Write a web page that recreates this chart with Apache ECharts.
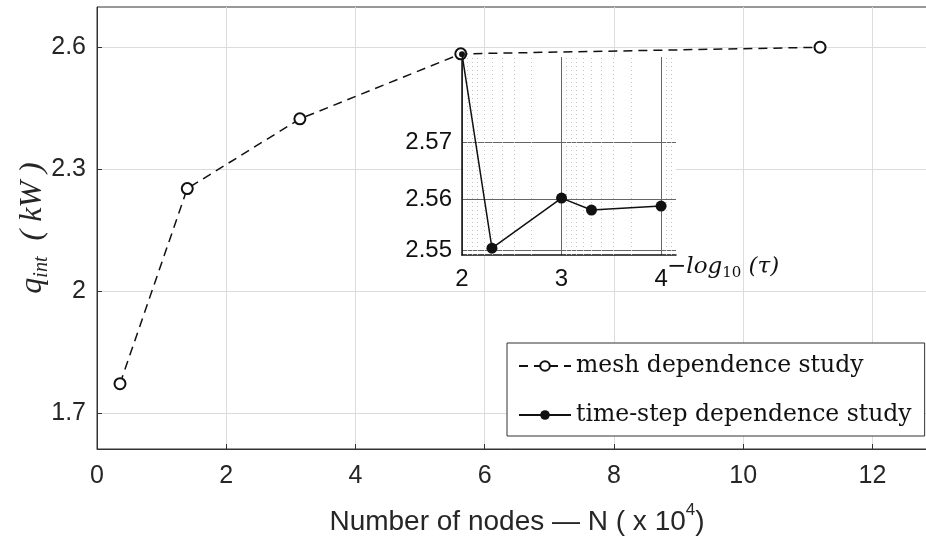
<!DOCTYPE html>
<html>
<head>
<meta charset="utf-8">
<script src="https://cdn.jsdelivr.net/npm/echarts@6/dist/echarts.min.js"></script>
<style>html,body{margin:0;padding:0;background:#fff}#c{width:926px;height:547px}</style>
</head>
<body>
<div id="c"></div>
<script>
// ---- data ----
const meshName = 'mesh dependence study';
const stepName = 'time-step dependence study';
const meshX = [0.356, 1.397, 3.14, 5.63, 11.19];
const meshY = [1.773, 2.2526, 2.424, 2.5838, 2.600];
const stepX = [2, 2.301, 3, 3.301, 4];
const stepY = [2.5855, 2.5514, 2.5602, 2.5581, 2.5588];
const mainXTicks = [0, 2, 4, 6, 8, 10, 12];
const mainYTicks = [1.7, 2.0, 2.3, 2.6];
const insetXTicks = [2, 3, 4];
const insetYTicks = [2.551, 2.56, 2.57];
// log-scale minor grid of tau (decades 1e-2 .. 1e-5)
const insetMinorX = [];
[2, 3, 4].forEach(function (e) {
  for (let m = 9; m >= 2; m--) {
    const v = -Math.log10(m * Math.pow(10, -(e + 1)));
    if (v > 2 && v < 4.15) insetMinorX.push(v);
  }
});

const sansFont = 'Liberation Sans';
const serifFont = 'DejaVu Serif';

const chart = echarts.init(document.getElementById('c'), null, {renderer: 'canvas'});
const option = {
  animation: false,
  backgroundColor: '#fff',
  grid: [
    {left: 97, top: 7, width: 840, height: 442, outerBoundsMode: 'none', containLabel: false,
      show: true, backgroundColor: '#fff', borderColor: '#333', borderWidth: 1, z: 0},
    {left: 462, top: 57, width: 214, height: 198, outerBoundsMode: 'none', containLabel: false,
      show: true, backgroundColor: '#fff', borderWidth: 0, z: 3}
  ],
  xAxis: [
    {
      gridIndex: 0, type: 'value', min: 0, max: 13,
      name: '{t|Number of nodes — N ( x 10}{s|4}{t|)}',
      nameLocation: 'middle', nameGap: 53, nameMoveOverlap: false,
      nameTextStyle: {rich: {
        t: {fontFamily: sansFont, fontSize: 28, color: '#262626', lineHeight: 34, verticalAlign: 'bottom'},
        s: {fontFamily: sansFont, fontSize: 17, color: '#262626', lineHeight: 34, verticalAlign: 'top'}
      }},
      axisLine: {lineStyle: {color: '#333', width: 1}},
      axisTick: {inside: true, length: 5, customValues: mainXTicks, lineStyle: {color: '#333'}},
      axisLabel: {customValues: mainXTicks, fontFamily: sansFont, fontSize: 25, color: '#262626', margin: 15},
      splitLine: {show: true, lineStyle: {color: '#dcdcdc', width: 1}}
    },
    {
      gridIndex: 1, type: 'value', min: 2, max: 4.15, z: 4,
      name: '{a|−log}{b|10}{c| (τ)}',
      nameLocation: 'end', nameGap: -9, nameMoveOverlap: false,
      nameTextStyle: {padding: [24, 0, 0, 0], rich: {
        a: {fontFamily: serifFont, fontStyle: 'italic', fontSize: 23, color: '#111', lineHeight: 28},
        b: {fontFamily: serifFont, fontSize: 15, color: '#111', lineHeight: 28, verticalAlign: 'bottom'},
        c: {fontFamily: serifFont, fontStyle: 'italic', fontSize: 23, color: '#111', lineHeight: 28}
      }},
      axisLine: {onZero: false, lineStyle: {color: '#111', width: 1.5}},
      axisTick: {show: false, customValues: insetXTicks},
      axisLabel: {customValues: insetXTicks, fontFamily: sansFont, fontSize: 24, color: '#111', margin: 12},
      splitLine: {show: true, lineStyle: {color: '#666', width: 1}}
    }
  ],
  yAxis: [
    {
      gridIndex: 0, type: 'value', min: 1.6125, max: 2.699,
      name: '{q|q}{s|int}{t|  ( kW )}',
      nameLocation: 'middle', nameGap: 45, nameRotate: 90, nameMoveOverlap: false,
      nameTextStyle: {rich: {
        q: {fontFamily: 'Liberation Serif', fontStyle: 'italic', fontSize: 32, color: '#262626', lineHeight: 38},
        s: {fontFamily: 'Liberation Serif', fontStyle: 'italic', fontSize: 20, color: '#262626', lineHeight: 38, verticalAlign: 'bottom'},
        t: {fontFamily: 'Liberation Serif', fontStyle: 'italic', fontSize: 32, color: '#262626', lineHeight: 38}
      }},
      axisLine: {show: true, lineStyle: {color: '#333', width: 1}},
      axisTick: {show: true, inside: true, length: 5, customValues: mainYTicks, lineStyle: {color: '#333'}},
      axisLabel: {customValues: mainYTicks, fontFamily: sansFont, fontSize: 25, color: '#262626', margin: 11,
        formatter: function (v) { return String(Math.round(v * 10) / 10); }},
      splitLine: {show: true, lineStyle: {color: '#dcdcdc', width: 1}}
    },
    {
      gridIndex: 1, type: 'value', min: 2.5502, max: 2.585, z: 4,
      axisLine: {show: true, onZero: false, lineStyle: {color: '#111', width: 1.5}},
      axisTick: {show: false, customValues: insetYTicks},
      axisLabel: {customValues: insetYTicks, fontFamily: sansFont, fontSize: 24, color: '#111', margin: 10,
        formatter: function (v) { return v.toFixed(2); }},
      splitLine: {show: true, lineStyle: {color: '#666', width: 1}}
    }
  ],
  legend: {
    data: [meshName, stepName],
    orient: 'vertical', left: 507, top: 343,
    itemWidth: 52, itemHeight: 12, itemGap: 19,
    padding: [8, 13, 6, 11],
    backgroundColor: '#fff', borderColor: '#333', borderWidth: 1, borderRadius: 0,
    textStyle: {fontFamily: serifFont, fontSize: 23.5, color: '#111', lineHeight: 30},
    z: 10
  },
  series: [
    {
      name: meshName, type: 'line', xAxisIndex: 0, yAxisIndex: 0, z: 5,
      data: meshX.map(function (x, i) { return [x, meshY[i]]; }),
      symbol: 'emptyCircle', symbolSize: 11, color: '#111',
      itemStyle: {color: '#111', borderWidth: 1.5},
      lineStyle: {color: '#111', width: 1.5, type: [9, 6]},
      clip: false
    },
    {
      name: 'minor', type: 'line', xAxisIndex: 1, yAxisIndex: 1, z: 3.5,
      data: [], silent: true,
      markLine: {
        silent: true, symbol: ['none', 'none'], label: {show: false},
        lineStyle: {color: '#c4c4c4', width: 1, type: [1, 3]},
        data: insetMinorX.map(function (v) { return {xAxis: v}; })
      }
    },
    {
      name: stepName, type: 'line', xAxisIndex: 1, yAxisIndex: 1, z: 6,
      data: stepX.map(function (x, i) {
        return i === 0 ? {value: [x, stepY[i]], symbolSize: 6} : [x, stepY[i]];
      }),
      symbol: 'circle', symbolSize: 11, color: '#111',
      itemStyle: {color: '#111'},
      lineStyle: {color: '#111', width: 1.5},
      clip: false
    }
  ]
};
chart.setOption(option);
</script>
</body>
</html>
